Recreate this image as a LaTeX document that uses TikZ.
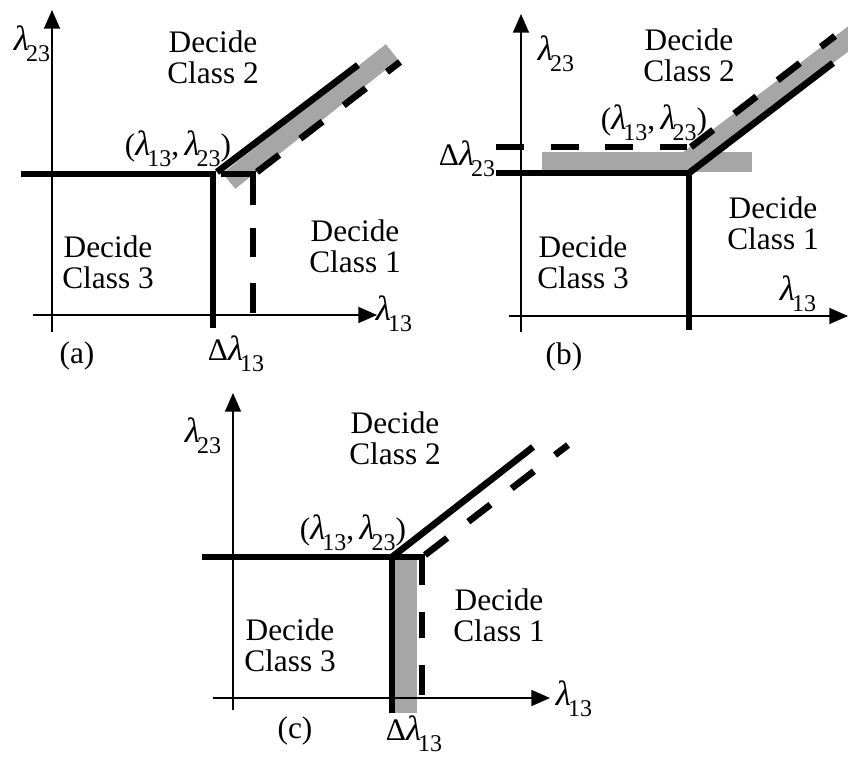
\documentclass[tikz,border=0pt]{standalone}
\usepackage{fontspec}
\setmainfont{Liberation Serif}
\usetikzlibrary{arrows.meta}
\definecolor{bandgray}{RGB}{166,166,166}
\newcommand\lam[1]{\scalebox{1.12}{\textit{λ}}\kern-0.1em\raisebox{-0.36em}{\fontsize{18pt}{18pt}\selectfont #1}}
\tikzset{
  axis/.style={line width=1.2pt, -{Triangle[length=14pt,width=12pt]}},
  bnd/.style={line width=5pt, line join=miter},
  dbnd/.style={line width=5pt, dash pattern=on 21pt off 20pt},
  band/.style={line width=15pt, draw=bandgray},
  bandfill/.style={fill=bandgray, draw=none},
  lbl/.style={font=\fontsize{23.5pt}{23.5pt}\selectfont, align=center, inner sep=0pt},
}
\begin{document}
\begin{tikzpicture}[x=0.75pt,y=-0.75pt]
\useasboundingbox (0,0) rectangle (848,756);

% ================= panel (a) =================
\draw[band] (229,181) -- (392,52);
\coordinate (aXl) at (33,315);  \coordinate (aXr) at (377,315);
\coordinate (aYb) at (52,332);  \coordinate (aYt) at (52,10);
\draw[axis] (aXl) -- (aXr);
\draw[axis] (aYb) -- (aYt);
\coordinate (aH0) at (21,174); \coordinate (aC) at (213,174); \coordinate (aV1) at (213,328);
\draw[bnd] (aH0) -- (aC) -- (aV1);
\coordinate (aD0) at (217,172); \coordinate (aD1) at (358,65);
\draw[bnd] (aD0) -- (aD1);
\coordinate (aS0) at (221,174); \coordinate (aSC) at (253,174);
\draw[bnd] (aS0) -- (aSC) -- (253,205);
\draw[bnd] (253,228) -- (253,257);
\draw[bnd] (253,283) -- (253,313);
\coordinate (aE0) at (257,172); \coordinate (aE1) at (400,62);
\draw[dbnd] (aE0) -- (aE1);
\node[lbl] (a2) at (213,57) {Decide\\Class 2};
\node[lbl] (a3) at (108,262) {Decide\\Class 3};
\node[lbl] (a1) at (355,246) {Decide\\Class 1};
\node[lbl] (ap) at (178,149) {(\lam{13},\,\lam{23})};
\node[lbl] (ay) at (32,44) {\lam{23}};
\node[lbl] (ax) at (394,314) {\lam{13}};
\node[lbl] (ad) at (236,354) {Δ\lam{13}};
\node[lbl] (al) at (77,356) {(a)};

% ================= panel (b) =================
\fill[bandfill] (542,152) rectangle (752,172);
\begin{scope}
\clip (600,0) rectangle (848,200);
\draw[band] (688,161) -- (856,33);
\end{scope}
\coordinate (bXl) at (509,316); \coordinate (bXr) at (848,316);
\coordinate (bYb) at (521,332); \coordinate (bYt) at (521,14);
\draw[axis] (bXl) -- (bXr);
\draw[axis] (bYb) -- (bYt);
\coordinate (bH0) at (496,173); \coordinate (bC) at (689,173); \coordinate (bV1) at (689,330);
\draw[bnd] (bH0) -- (bC) -- (bV1);
\coordinate (bD1) at (833,63);
\draw[bnd] (bC) -- (bD1);
\coordinate (bS0) at (496,147); \coordinate (bS1) at (687,147);
\draw[dbnd] (bS0) -- (bS1);
\coordinate (bE0) at (691,147); \coordinate (bE1) at (835,36);
\draw[dbnd] (bE0) -- (bE1);
\node[lbl] (b2) at (689,55) {Decide\\Class 2};
\node[lbl] (b3) at (583,262) {Decide\\Class 3};
\node[lbl] (b1) at (773,223) {Decide\\Class 1};
\node[lbl] (bp) at (654,123) {(\lam{13},\,\lam{23})};
\node[lbl] (by) at (556,54) {\lam{23}};
\node[lbl] (bx) at (798,294) {\lam{13}};
\node[lbl] (bd) at (467,159) {Δ\lam{23}};
\node[lbl] (bl) at (564,357) {(b)};

% ================= panel (c) =================
\fill[bandfill] (395,557) rectangle (417,713);
\coordinate (cXl) at (213,698); \coordinate (cXr) at (550,698);
\coordinate (cYb) at (233,710); \coordinate (cYt) at (233,393);
\draw[axis] (cXl) -- (cXr);
\draw[axis] (cYb) -- (cYt);
\coordinate (cH0) at (202,557); \coordinate (cC) at (392,557); \coordinate (cV1) at (392,713);
\draw[bnd] (cH0) -- (cC) -- (cV1);
\coordinate (cD1) at (533,447);
\draw[bnd] (cC) -- (cD1);
\coordinate (cS0) at (395,557); \coordinate (cSC) at (422,557);
\draw[bnd] (cS0) -- (cSC) -- (422,585);
\draw[bnd] (422,612) -- (422,638);
\draw[bnd] (422,665) -- (422,695);
\coordinate (cE0) at (425,555); \coordinate (cE1) at (568,445);
\draw[dbnd] (cE0) -- (cE1);
\node[lbl] (c2) at (395,438) {Decide\\Class 2};
\node[lbl] (c3) at (290,645) {Decide\\Class 3};
\node[lbl] (c1) at (499,615) {Decide\\Class 1};
\node[lbl] (cp) at (353,533) {(\lam{13},\,\lam{23})};
\node[lbl] (cy) at (203,436) {\lam{23}};
\node[lbl] (cx) at (574,699) {\lam{13}};
\node[lbl] (cd) at (414,734) {Δ\lam{13}};
\node[lbl] (cl) at (295,731) {(c)};
\end{tikzpicture}
\end{document}
